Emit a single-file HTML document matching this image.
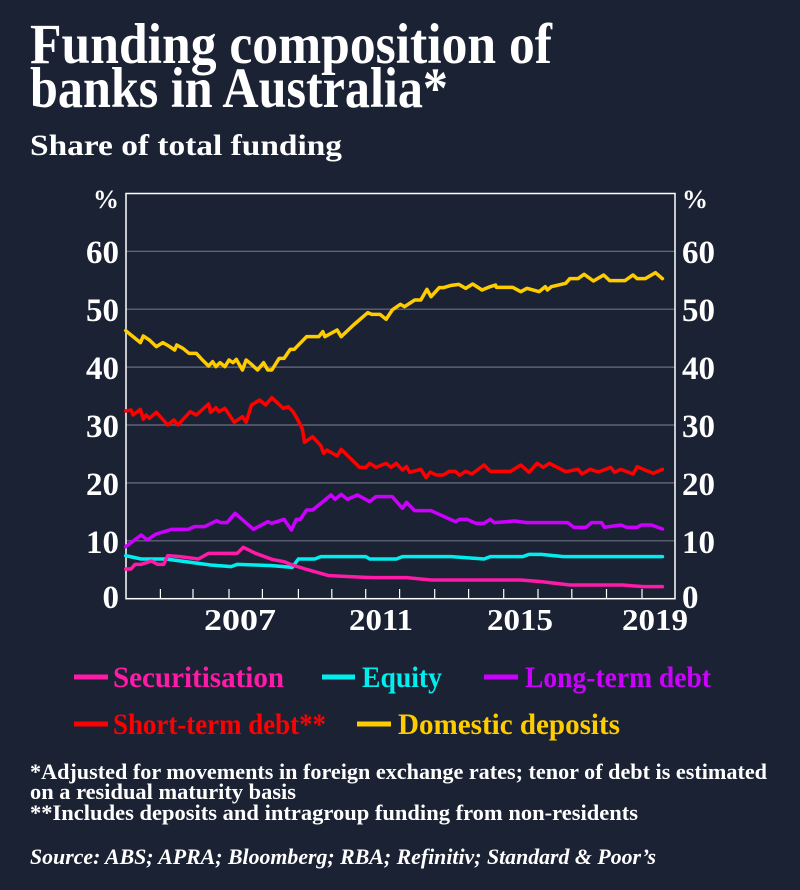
<!DOCTYPE html>
<html><head><meta charset="utf-8"><style>
html,body{margin:0;padding:0;background:#1b2234;}
svg{display:block;}
text{font-family:"Liberation Serif",serif;font-weight:bold;}
</style></head><body>
<svg width="800" height="890" viewBox="0 0 800 890" xmlns="http://www.w3.org/2000/svg">
<rect width="800" height="890" fill="#1b2234"/>
<text x="30" y="63" font-size="57" fill="#fff" textLength="522" lengthAdjust="spacingAndGlyphs">Funding composition of</text>
<text x="30" y="107" font-size="57" fill="#fff" textLength="418" lengthAdjust="spacingAndGlyphs">banks in Australia*</text>
<text x="30" y="155" font-size="30" fill="#fff" textLength="312" lengthAdjust="spacingAndGlyphs">Share of total funding</text>

<g stroke="#6b7080" stroke-width="1.2">
<line x1="126" x2="675" y1="251.3" y2="251.3"/>
<line x1="126" x2="675" y1="309.2" y2="309.2"/>
<line x1="126" x2="675" y1="367.1" y2="367.1"/>
<line x1="126" x2="675" y1="425" y2="425"/>
<line x1="126" x2="675" y1="482.9" y2="482.9"/>
<line x1="126" x2="675" y1="540.8" y2="540.8"/>
</g>
<rect x="126" y="193.5" width="549" height="405.2" fill="none" stroke="#fff" stroke-width="1.5"/>
<g stroke="#fff" stroke-width="1.2">
<line x1="160.4" x2="160.4" y1="589" y2="599"/><line x1="193" x2="193" y1="589" y2="599"/><line x1="229" x2="229" y1="589" y2="599"/><line x1="262.4" x2="262.4" y1="589" y2="599"/><line x1="298.4" x2="298.4" y1="589" y2="599"/><line x1="331.8" x2="331.8" y1="589" y2="599"/><line x1="365.7" x2="365.7" y1="589" y2="599"/><line x1="399.6" x2="399.6" y1="589" y2="599"/><line x1="434.7" x2="434.7" y1="589" y2="599"/><line x1="468.6" x2="468.6" y1="589" y2="599"/><line x1="503.7" x2="503.7" y1="589" y2="599"/><line x1="538" x2="538" y1="589" y2="599"/><line x1="571.8" x2="571.8" y1="589" y2="599"/><line x1="606.5" x2="606.5" y1="589" y2="599"/><line x1="642" x2="642" y1="589" y2="599"/>
</g>

<g fill="#fff" font-size="33">
<text x="119" y="208" text-anchor="end" font-size="26">%</text>
<text x="682" y="208" font-size="26">%</text>
<text x="119" y="263" text-anchor="end">60</text><text x="119" y="321" text-anchor="end">50</text><text x="119" y="379" text-anchor="end">40</text><text x="119" y="437" text-anchor="end">30</text><text x="119" y="495" text-anchor="end">20</text><text x="119" y="553" text-anchor="end">10</text><text x="119" y="608" text-anchor="end">0</text>
<text x="682" y="263">60</text><text x="682" y="321">50</text><text x="682" y="379">40</text><text x="682" y="437">30</text><text x="682" y="495">20</text><text x="682" y="553">10</text><text x="682" y="608">0</text>
<text x="240" y="630" text-anchor="middle" font-size="31" textLength="72" lengthAdjust="spacingAndGlyphs">2007</text>
<text x="381" y="630" text-anchor="middle" font-size="31" textLength="64" lengthAdjust="spacingAndGlyphs">2011</text>
<text x="520" y="630" text-anchor="middle" font-size="31" textLength="66" lengthAdjust="spacingAndGlyphs">2015</text>
<text x="655" y="630" text-anchor="middle" font-size="31" textLength="66" lengthAdjust="spacingAndGlyphs">2019</text>
</g>

<g transform="translate(80,180) scale(0.40816,0.33333)" fill="none" stroke-width="3.5" stroke-linejoin="round" stroke-linecap="round">
<polyline vector-effect="non-scaling-stroke" stroke="#00eeee" points="112,1127 150,1137 210,1137 290,1150 320,1155 370,1160 385,1153 430,1155 470,1157 520,1162 535,1137 575,1137 590,1130 700,1130 710,1137 775,1137 790,1130 910,1130 990,1137 1005,1130 1085,1130 1100,1123 1130,1123 1185,1130 1427,1130"/>
<polyline vector-effect="non-scaling-stroke" stroke="#ff1aa8" points="112,1167 125,1167 135,1153 150,1153 175,1143 190,1153 205,1153 215,1127 245,1130 290,1137 315,1120 385,1120 400,1102 430,1120 470,1138 500,1145 520,1155 560,1170 610,1187 700,1192 720,1193 800,1193 860,1200 1080,1200 1130,1205 1200,1215 1330,1215 1380,1220 1427,1220"/>
<polyline vector-effect="non-scaling-stroke" stroke="#cc00ff" points="112,1100 150,1065 165,1080 185,1063 225,1048 265,1048 280,1040 305,1040 335,1022 345,1028 360,1028 380,1000 425,1048 460,1025 470,1030 500,1018 518,1050 530,1018 540,1018 555,990 570,990 615,945 625,958 640,943 655,958 680,945 710,965 725,950 765,950 790,985 800,967 820,992 860,992 920,1025 930,1018 948,1018 970,1030 990,1030 1005,1018 1015,1028 1065,1023 1095,1028 1195,1028 1210,1042 1240,1042 1253,1028 1278,1028 1285,1042 1325,1035 1340,1042 1365,1042 1375,1035 1400,1035 1427,1047"/>
<polyline vector-effect="non-scaling-stroke" stroke="#ff0000" points="112,693 125,690 130,705 148,688 155,718 162,705 170,715 187,697 215,735 230,720 240,735 270,695 285,705 315,672 320,697 333,683 340,695 355,685 378,727 398,710 407,727 420,675 440,660 455,675 470,653 498,685 510,680 522,695 533,718 545,748 550,787 570,770 590,797 597,820 605,810 630,828 640,808 685,862 700,862 710,850 725,862 750,850 762,862 775,850 790,870 800,860 808,877 835,868 848,893 858,876 872,885 890,885 905,874 920,874 930,886 945,874 960,882 990,855 1005,874 1055,874 1080,855 1100,877 1120,850 1135,862 1150,850 1190,875 1220,868 1230,882 1250,868 1270,876 1300,862 1310,877 1325,868 1355,882 1365,860 1380,868 1405,880 1427,868"/>
<polyline vector-effect="non-scaling-stroke" stroke="#ffcc00" points="112,452 130,470 148,488 155,468 170,480 187,500 203,488 220,500 232,510 237,495 252,505 267,520 285,520 300,540 315,558 325,545 333,560 343,548 355,560 365,540 375,548 383,538 398,570 407,540 420,553 435,570 450,548 460,570 470,570 488,535 500,535 515,508 525,508 555,470 585,470 595,455 600,470 630,450 640,470 670,435 705,398 715,403 735,403 750,418 765,390 785,373 795,380 820,360 835,360 850,328 860,350 880,323 890,323 910,316 928,313 945,325 962,312 985,330 1005,320 1018,315 1020,322 1060,322 1080,335 1095,325 1125,335 1140,320 1145,330 1155,320 1190,310 1200,296 1220,296 1235,283 1258,303 1283,285 1298,302 1335,302 1355,285 1365,296 1385,296 1410,278 1427,296"/>
</g>

<g stroke-width="5">
<line x1="74" x2="108" y1="677" y2="677" stroke="#ff1aa8"/>
<line x1="322" x2="355" y1="677" y2="677" stroke="#00eeee"/>
<line x1="484" x2="518" y1="677" y2="677" stroke="#cc00ff"/>
<line x1="74" x2="108" y1="724" y2="724" stroke="#ff0000"/>
<line x1="357" x2="391" y1="724" y2="724" stroke="#ffcc00"/>
</g>
<g font-size="30">
<text x="113" y="687" fill="#ff1aa8" textLength="171" lengthAdjust="spacingAndGlyphs">Securitisation</text>
<text x="362" y="687" fill="#00eeee" textLength="80" lengthAdjust="spacingAndGlyphs">Equity</text>
<text x="525" y="687" fill="#cc00ff" textLength="186" lengthAdjust="spacingAndGlyphs">Long-term debt</text>
<text x="113" y="734" fill="#ff0000" textLength="213" lengthAdjust="spacingAndGlyphs">Short-term debt**</text>
<text x="398" y="734" fill="#ffcc00" textLength="222" lengthAdjust="spacingAndGlyphs">Domestic deposits</text>
</g>
<g fill="#fff" font-size="22">
<text x="30" y="779" textLength="737" lengthAdjust="spacingAndGlyphs">*Adjusted for movements in foreign exchange rates; tenor of debt is estimated</text>
<text x="30" y="799" textLength="266" lengthAdjust="spacingAndGlyphs">on a residual maturity basis</text>
<text x="30" y="820" textLength="608" lengthAdjust="spacingAndGlyphs">**Includes deposits and intragroup funding from non-residents</text>
<text x="30" y="864" font-style="italic" textLength="626" lengthAdjust="spacingAndGlyphs">Source: ABS; APRA; Bloomberg; RBA; Refinitiv; Standard &amp; Poor’s</text>
</g>
</svg>
</body></html>
